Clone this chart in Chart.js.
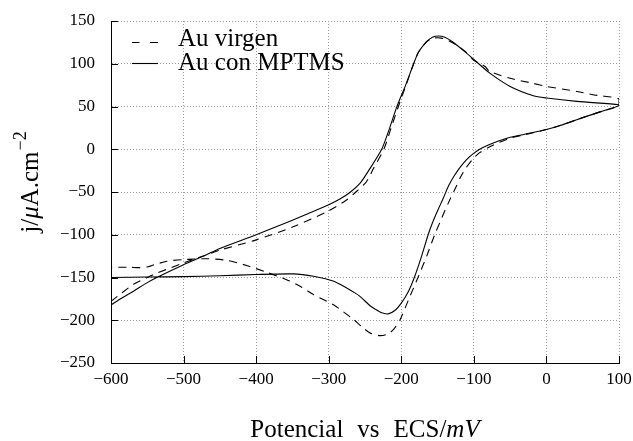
<!DOCTYPE html>
<html>
<head>
<meta charset="utf-8">
<script src="https://cdn.jsdelivr.net/npm/chart.js@4"></script>
<style>
  html, body { margin: 0; padding: 0; background: #fff; }
  #wrap { width: 633px; height: 441px; }
</style>
</head>
<body>
<div id="wrap"><canvas id="chart"></canvas></div>
<script>
// tick values
const xTicks = [-600, -500, -400, -300, -200, -100, 0, 100];
const yTicks = [-250, -200, -150, -100, -50, 0, 50, 100, 150];

// Au virgen (dashed) - anodic sweep then cathodic sweep
const virgenX = [-600, -585, -569, -550, -537, -500, -470, -450, -400, -350, -300, -275, -260, -248, -238, -224, -214, -204, -193, -183, -176, -165, -155, -145, -135, -124, -110, -100, -85, -78, -50, -18, 0, 42, 70, 100,
                 100, 75, 50, 20, 0, -30, -50, -65, -80, -92, -102, -111, -118, -124, -132, -140, -147, -154, -165, -177, -190, -202, -210, -218, -229, -243, -255, -266, -280, -294, -321, -340, -358, -385, -413, -440, -468, -500, -523, -540, -549, -560, -575, -600];
const virgenY = [-178, -168, -158, -150, -145, -133, -124, -118, -106, -91, -72, -59, -48, -38, -22, 0, 25, 50, 76, 100, 114, 126, 130, 130, 127, 122, 113, 104, 97, 91, 83, 77, 73.5, 67.6, 63, 59,
                 51, 44, 37, 28, 23, 17, 13, 8, 2, -4, -12, -22, -32, -43, -57, -72, -86, -100, -125, -150, -176, -200, -210, -216, -218, -215, -207, -199, -190, -181.6, -170, -160, -152.5, -144, -136, -130, -128, -129, -131, -135, -137.5, -138.5, -138, -138];

// Au con MPTMS (solid)
const mptmsX = [-600, -585, -569, -550, -537, -500, -470, -450, -400, -350, -300, -284, -270, -257, -245, -227, -216, -206, -194, -183, -176, -165, -157, -149, -140, -130, -115, -100, -78, -50, -18, 0, 42, 100,
                100, 75, 50, 20, 0, -30, -50, -65, -80, -92, -102, -110, -118, -127, -135, -142, -150, -157, -163, -172, -182, -190, -200, -208, -218, -228, -236, -243, -257, -266, -280, -294, -321, -349, -400, -450, -500, -550, -600];
const mptmsY = [-182, -174, -166, -156, -150, -135, -124, -116, -100, -83, -65, -58, -50, -40, -25, 0, 25, 50, 75, 100, 114, 126, 131, 132.5, 131, 126, 116, 105, 89, 73.5, 62.6, 60, 56, 52,
                51, 44, 37, 28, 23, 17.5, 14, 10, 5, 0, -6, -12, -20, -31, -43, -57, -72, -86, -100, -125, -150, -166, -180, -188, -192.5, -191, -187, -183, -172, -167, -160, -154, -148.5, -145.8, -146.5, -148, -149, -149.5, -150];

const seriesLabels = ['Au virgen', 'Au con MPTMS'];

const toPoints = (xs, ys) => xs.map((v, i) => ({ x: v, y: ys[i] }));
const fmt = v => (v < 0 ? '\u2212' + Math.abs(v) : String(v));
const SERIF = '"Liberation Serif", "Times New Roman", serif';

Chart.defaults.font.family = SERIF;
Chart.defaults.color = '#000';

function drawPieces(ctx, pieces, cx, baseY) {
  let total = 0;
  pieces.forEach(p => { ctx.font = p.font; p.w = ctx.measureText(p.t).width; total += p.w + (p.gap || 0); });
  let x = cx - total / 2;
  pieces.forEach(p => {
    ctx.font = p.font;
    ctx.fillText(p.t, x, baseY + (p.dy || 0));
    x += p.w + (p.gap || 0);
  });
}

const extras = {
  id: 'extras',
  afterDraw(chart) {
    const { ctx, chartArea: a, scales } = chart;
    const sx = scales.x, sy = scales.y;
    ctx.save();
    ctx.strokeStyle = '#000';
    ctx.lineWidth = 1;
    // inward tick marks on left and bottom axes
    xTicks.forEach(v => {
      const px = Math.round(sx.getPixelForValue(v)) + 0.5;
      ctx.beginPath(); ctx.moveTo(px, a.bottom); ctx.lineTo(px, a.bottom - 7); ctx.stroke();
    });
    yTicks.forEach(v => {
      const py = Math.round(sy.getPixelForValue(v)) + 0.5;
      ctx.beginPath(); ctx.moveTo(a.left, py); ctx.lineTo(a.left + 7, py); ctx.stroke();
    });

    // legend
    ctx.fillStyle = '#000';
    ctx.textBaseline = 'alphabetic';
    ctx.textAlign = 'left';
    ctx.font = '25px ' + SERIF;
    ctx.lineWidth = 1.1;
    ctx.beginPath(); ctx.moveTo(132, 42.5); ctx.lineTo(139.5, 42.5); ctx.moveTo(150, 42.5); ctx.lineTo(158, 42.5); ctx.stroke();
    ctx.fillText(seriesLabels[0], 178, 46);
    ctx.beginPath(); ctx.moveTo(132, 63.5); ctx.lineTo(158, 63.5); ctx.stroke();
    ctx.fillText(seriesLabels[1], 178, 70);

    // x axis title
    const n = '25px ' + SERIF, it = 'italic 25px ' + SERIF;
    drawPieces(ctx, [
      { t: 'Potencial', font: n, gap: 14 },
      { t: 'vs', font: n, gap: 14 },
      { t: 'ECS/', font: n },
      { t: 'mV', font: it }
    ], 365, 436.5);

    // y axis title
    ctx.save();
    ctx.translate(38, 182);
    ctx.rotate(-Math.PI / 2);
    drawPieces(ctx, [
      { t: 'j/', font: n },
      { t: '\u03bc', font: it },
      { t: 'A.cm', font: n, gap: 1 },
      { t: '\u22122', font: '18px ' + SERIF, dy: -12 }
    ], 0, 0);
    ctx.restore();
    ctx.restore();
  }
};

const gridOpts = { color: '#9a9a9a', lineWidth: 1, drawTicks: false };
const borderOpts = { color: '#000', width: 1, dash: [1, 2] };

new Chart(document.getElementById('chart').getContext('2d'), {
  type: 'scatter',
  data: {
    datasets: [
      {
        label: seriesLabels[0],
        data: toPoints(virgenX, virgenY),
        showLine: true,
        borderColor: '#000',
        borderWidth: 1.1,
        borderDash: [8, 6],
        pointRadius: 0,
        tension: 0.25
      },
      {
        label: seriesLabels[1],
        data: toPoints(mptmsX, mptmsY),
        showLine: true,
        borderColor: '#000',
        borderWidth: 1.1,
        pointRadius: 0,
        tension: 0.25
      }
    ]
  },
  options: {
    responsive: true,
    maintainAspectRatio: false,
    animation: false,
    layout: { padding: { top: 21, right: 14, left: 0, bottom: 0 } },
    plugins: {
      legend: { display: false },
      tooltip: { enabled: false }
    },
    scales: {
      x: {
        type: 'linear',
        min: -600,
        max: 100,
        afterBuildTicks: s => { s.ticks = xTicks.map(v => ({ value: v })); },
        afterFit: s => { s.height = 78; s.paddingLeft = 0; s.paddingRight = 0; },
        ticks: { padding: 6, font: { size: 17 }, callback: fmt, maxRotation: 0 },
        grid: gridOpts,
        border: borderOpts
      },
      y: {
        type: 'linear',
        min: -250,
        max: 150,
        afterBuildTicks: s => { s.ticks = yTicks.map(v => ({ value: v })); },
        afterFit: s => { s.width = 111; s.paddingTop = 0; s.paddingBottom = 0; },
        ticks: { padding: 16, font: { size: 17 }, callback: fmt },
        grid: gridOpts,
        border: borderOpts
      }
    }
  },
  plugins: [extras]
});
</script>
</body>
</html>
